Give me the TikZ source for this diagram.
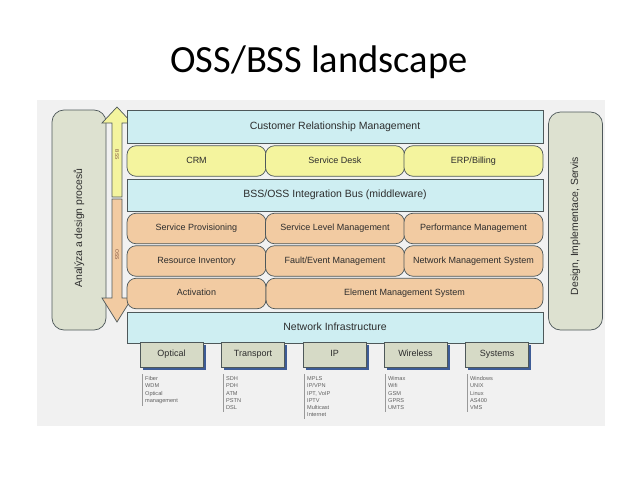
\documentclass[tikz,border=0pt]{standalone}
\usepackage{fontspec}
\setmainfont{Liberation Sans}
\newfontfamily\titlefont{Carlito}
\usepackage{tikz}
\usetikzlibrary{shadows}
\definecolor{landback}{RGB}{241,241,241}
\definecolor{sideback}{RGB}{221,225,208}
\definecolor{busback}{RGB}{206,238,242}
\definecolor{bssback}{RGB}{244,244,158}
\definecolor{ossback}{RGB}{242,203,162}
\definecolor{netback}{RGB}{214,218,198}
\definecolor{netshadow}{RGB}{62,92,150}
\definecolor{boxline}{RGB}{78,88,90}
\definecolor{boxtext}{RGB}{45,45,45}
\definecolor{listtext}{RGB}{95,95,95}
\definecolor{arrowtext}{RGB}{125,80,60}
\tikzset{
  bar/.style={draw=boxline,line width=0.7pt,fill=busback,minimum width=416pt,inner sep=0pt,
    text height=7.5pt,text depth=2pt,font=\fontsize{10.5}{12}\selectfont,text=boxtext},
  layerbox/.style={draw=boxline,line width=0.7pt,rounded corners=9pt,minimum width=139pt,
    minimum height=30.5pt,inner sep=0pt,text height=6.5pt,text depth=1.8pt,
    font=\fontsize{9}{10}\selectfont,text=boxtext},
  bssbox/.style={layerbox,fill=bssback},
  ossbox/.style={layerbox,fill=ossback},
  sidepanel/.style={draw=boxline,line width=0.7pt,fill=sideback,rounded corners=12pt,rotate=90,
    inner sep=0pt,minimum height=54pt,font=\fontsize{10.4}{12}\selectfont,text=boxtext},
  netbox/.style={draw=boxline,line width=0.7pt,fill=netback,minimum width=63pt,minimum height=25pt,
    inner sep=0pt,text height=6.5pt,text depth=1.8pt,font=\fontsize{9}{11}\selectfont,text=boxtext,
    drop shadow={shadow xshift=2.5pt,shadow yshift=-2.5pt,fill=netshadow,opacity=1}},
  netlist/.style={anchor=north west,align=left,inner xsep=3pt,inner ysep=2.5pt,
    font=\fontsize{5.6}{7.2}\selectfont,text=listtext},
  listline/.style={draw=gray!80,line width=0.6pt},
  arrowpart/.style={draw=boxline,line width=0.7pt},
  arrowlabel/.style={rotate=-90,font=\fontsize{5}{6}\selectfont,text=arrowtext}
}
\begin{document}
\begin{tikzpicture}[x=1pt,y=-1pt]
\useasboundingbox (0,0) rectangle (638,479);
\fill[white] (0,0) rectangle (638,479);
\fill[landback] (37,100) rectangle (605,426);
\node[font=\titlefont\fontsize{38.5}{44}\selectfont] (title) at (319,62) {OSS/BSS landscape};

% side panels
\node[sidepanel,minimum width=220pt] (analysis) at (79,220) {};
\node[sidepanel,minimum width=218pt] (design) at (575.5,221) {};
\node[sidepanel,draw=none,fill=none] (analysistext) at (79,228) {Analýza a design procesů};
\node[sidepanel,draw=none,fill=none] (designtext) at (575.5,226) {Design, Implementace, Servis};

% BSS / OSS arrow
\filldraw[arrowpart,fill=bssback] (117,107) -- (132,123) -- (122,123) -- (122,197)
  -- (112,197) -- (112,123) -- (102,123) -- cycle;
\filldraw[arrowpart,fill=ossback] (112,199) -- (122,199) -- (122,298) -- (132,298)
  -- (117,322) -- (102,298) -- (112,298) -- cycle;
\node[arrowlabel] (bsslabel) at (117,155) {BSS};
\node[arrowlabel] (osslabel) at (117,255) {OSS};

% layers
\node[bar,minimum height=33pt] (crmbar) at (335,126.5) {Customer Relationship Management};
\node[bssbox] (crm) at (196.5,161) {CRM};
\node[bssbox] (desk) at (335,161) {Service Desk};
\node[bssbox] (erp) at (473.5,161) {ERP/Billing};
\node[bar,minimum height=32pt] (bus) at (335,195) {BSS/OSS Integration Bus (middleware)};
\node[ossbox] (prov) at (196.5,228.5) {Service Provisioning};
\node[ossbox] (slm) at (335,228.5) {Service Level Management};
\node[ossbox] (perf) at (473.5,228.5) {Performance Management};
\node[ossbox] (inv) at (196.5,261) {Resource Inventory};
\node[ossbox] (fault) at (335,261) {Fault/Event Management};
\node[ossbox] (nms) at (473.5,261) {Network Management System};
\node[ossbox] (act) at (196.5,293.5) {Activation};
\node[ossbox,minimum width=277pt] (ems) at (404.5,293.5) {Element Management System};
\node[bar,minimum height=31pt] (netinf) at (335,327.5) {Network Infrastructure};

% network infrastructure
\node[netbox] (optical) at (171.5,354.5) {Optical};
\node[netbox] (transport) at (253,354.5) {Transport};
\node[netbox] (ip) at (334.5,354.5) {IP};
\node[netbox] (wireless) at (415.5,354.5) {Wireless};
\node[netbox] (systems) at (497,354.5) {Systems};

\node[netlist] (opticallist) at (142,374) {Fiber\\WDM\\Optical\\management};
\node[netlist] (transportlist) at (223,374) {SDH\\PDH\\ATM\\PSTN\\DSL};
\node[netlist] (iplist) at (304,374) {MPLS\\IP/VPN\\IPT, VoIP\\IPTV\\Multicast\\Internet};
\node[netlist] (wirelesslist) at (385,374) {Wimax\\Wifi\\GSM\\GPRS\\UMTS};
\node[netlist] (systemslist) at (467,374) {Windows\\UNIX\\Linux\\AS400\\VMS};
\draw[listline] (opticallist.north west) -- (opticallist.south west);
\draw[listline] (transportlist.north west) -- (transportlist.south west);
\draw[listline] (iplist.north west) -- (iplist.south west);
\draw[listline] (wirelesslist.north west) -- (wirelesslist.south west);
\draw[listline] (systemslist.north west) -- (systemslist.south west);
\end{tikzpicture}
\end{document}
